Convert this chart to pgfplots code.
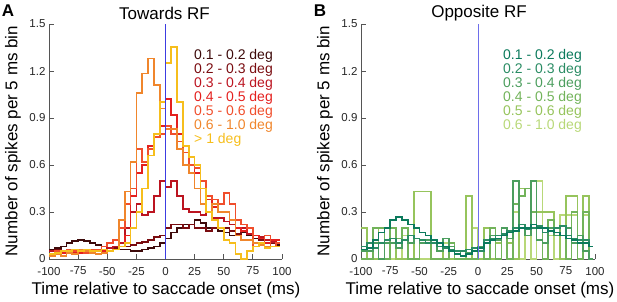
\documentclass[border=0pt]{standalone}
\usepackage{fontspec}
\setmainfont{Liberation Sans}
\usepackage{pgfplots}
\usepackage{pgfplotstable}
\pgfplotsset{compat=1.18}
\definecolor{lA}{HTML}{3D0A0A}
\definecolor{lB}{HTML}{7A0C10}
\definecolor{lC}{HTML}{BC1420}
\definecolor{lD}{HTML}{E4201E}
\definecolor{lE}{HTML}{F04E2C}
\definecolor{lF}{HTML}{F0862C}
\definecolor{lG}{HTML}{F6BE1C}
\definecolor{rA}{HTML}{0B7A5C}
\definecolor{rB}{HTML}{2A8C64}
\definecolor{rC}{HTML}{4C9E5E}
\definecolor{rD}{HTML}{72B35A}
\definecolor{rE}{HTML}{96C45C}
\definecolor{rF}{HTML}{B8D878}
\definecolor{axgray}{HTML}{555555}
\pgfplotstableread{
t a b c d e f g
-100 0.06 0.05 0.05 0.03 0.03 0.02 0.03
-95 0.07 0.06 0.05 0.03 0.05 0.03 0.04
-90 0.08 0.05 0.04 0.04 0.05 0.02 0.05
-85 0.10 0.06 0.05 0.05 0.06 0.04 0.05
-80 0.115 0.06 0.05 0.04 0.05 0.03 0.06
-75 0.12 0.05 0.04 0.04 0.05 0.06 0.05
-70 0.115 0.06 0.05 0.05 0.04 0.05 0.06
-65 0.10 0.05 0.06 0.04 0.06 0.04 0.05
-60 0.09 0.06 0.05 0.05 0.06 0.03 0.05
-55 0.08 0.06 0.06 0.05 0.08 0.04 0.06
-50 0.07 0.07 0.07 0.05 0.10 0.05 0.05
-45 0.07 0.07 0.08 0.06 0.12 0.06 0.06
-40 0.06 0.08 0.10 0.08 0.20 0.25 0.08
-35 0.06 0.08 0.20 0.15 0.35 0.43 0.10
-30 0.05 0.09 0.30 0.40 0.45 0.62 0.20
-25 0.05 0.10 0.35 0.55 0.70 1.06 0.30
-20 0.06 0.11 0.28 0.60 0.62 1.185 0.45
-15 0.07 0.12 0.30 0.72 0.70 1.28 0.66
-10 0.08 0.14 0.40 0.80 0.78 1.11 0.80
-5 0.10 0.15 0.50 0.85 0.80 0.96 1.00
0 0.13 0.20 0.46 1.02 0.85 0.83 1.25
5 0.17 0.22 0.50 0.92 0.80 0.83 1.355
10 0.20 0.22 0.40 0.80 0.75 0.70 1.00
15 0.22 0.20 0.32 0.72 0.68 0.60 0.72
20 0.22 0.22 0.30 0.65 0.60 0.55 0.65
25 0.25 0.20 0.30 0.55 0.58 0.45 0.60
30 0.23 0.20 0.28 0.45 0.50 0.35 0.45
35 0.20 0.18 0.30 0.38 0.40 0.30 0.30
40 0.20 0.20 0.26 0.33 0.38 0.35 0.25
45 0.18 0.20 0.26 0.30 0.35 0.30 0.20
50 0.17 0.20 0.24 0.30 0.42 0.30 0.12
55 0.15 0.18 0.22 0.25 0.35 0.25 0.10
60 0.15 0.16 0.20 0.20 0.25 0.15 0.03
65 0.17 0.18 0.20 0.18 0.22 0.12 0.00
70 0.15 0.16 0.16 0.20 0.20 0.12 0.05
75 0.13 0.15 0.15 0.15 0.08 0.10 0.08
80 0.12 0.12 0.14 0.13 0.10 0.09 0.10
85 0.10 0.12 0.12 0.10 0.15 0.08 0.07
90 0.10 0.10 0.11 0.12 0.08 0.08 0.08
95 0.09 0.10 0.10 0.12 0.10 0.08 0.08
98 0.09 0.10 0.10 0.12 0.10 0.08 0.08
}\tabL
\pgfplotstableread{
t a b c d e f
-100 0.06 0.08 0.05 0.00 0.20 0.00
-95 0.07 0.10 0.05 0.00 0.00 0.00
-90 0.12 0.07 0.10 0.20 0.00 0.10
-85 0.17 0.10 0.00 0.20 0.20 0.00
-80 0.20 0.12 0.10 0.00 0.00 0.00
-75 0.25 0.13 0.10 0.20 0.10 0.00
-70 0.27 0.10 0.07 0.13 0.00 0.00
-65 0.25 0.12 0.12 0.20 0.00 0.15
-60 0.22 0.15 0.10 0.00 0.00 0.00
-55 0.20 0.13 0.13 0.00 0.43 0.00
-50 0.17 0.12 0.10 0.10 0.43 0.00
-45 0.15 0.10 0.12 0.10 0.43 0.00
-40 0.12 0.10 0.10 0.00 0.10 0.00
-35 0.10 0.08 0.05 0.00 0.10 0.00
-30 0.08 0.07 0.13 0.00 0.00 0.10
-25 0.05 0.06 0.08 0.10 0.00 0.00
-20 0.03 0.05 0.03 0.00 0.00 0.00
-15 0.02 0.05 0.05 0.00 0.00 0.00
-10 0.03 0.06 0.04 0.00 0.40 0.00
-5 0.05 0.07 0.05 0.00 0.00 0.20
0 0.07 0.05 0.08 0.07 0.00 0.00
5 0.10 0.12 0.10 0.00 0.20 0.00
10 0.12 0.13 0.15 0.20 0.00 0.20
15 0.13 0.15 0.12 0.00 0.10 0.00
20 0.15 0.16 0.20 0.15 0.20 0.15
25 0.17 0.18 0.13 0.00 0.10 0.00
30 0.18 0.20 0.50 0.35 0.00 0.30
35 0.20 0.22 0.20 0.40 0.45 0.00
40 0.20 0.19 0.15 0.45 0.45 0.20
45 0.22 0.20 0.50 0.30 0.30 0.00
50 0.20 0.21 0.12 0.20 0.30 0.50
55 0.20 0.17 0.10 0.00 0.30 0.00
60 0.18 0.18 0.20 0.25 0.30 0.15
65 0.17 0.20 0.15 0.20 0.15 0.00
70 0.15 0.21 0.15 0.15 0.00 0.28
75 0.13 0.15 0.20 0.00 0.40 0.28
80 0.12 0.13 0.10 0.30 0.40 0.28
85 0.10 0.12 0.15 0.00 0.10 0.10
90 0.10 0.12 0.05 0.30 0.40 0.28
95 0.08 0.08 0.00 0.00 0.00 0.00
98 0.08 0.08 0.00 0.00 0.00 0.00
}\tabR
\pgfplotsset{
  panel/.style={
    width=233pt, height=235pt, scale only axis, anchor=south west,
    xmin=-100, xmax=100, ymin=0, ymax=1.5,
    xtick={-100,-75,-50,-25,0,25,50,75,100},
    ytick={0,0.3,0.6,0.9,1.2,1.5},
    axis x line=bottom, axis y line=left,
    axis line style={-, draw=axgray, line width=0.8pt},
    tick align=inside, major tick length=5pt,
    tick style={draw=axgray, line width=0.8pt},
    ticklabel style={font=\fontsize{11.5}{12}\selectfont, text=black!85},
    xticklabel style={yshift=-4.5pt},
    /pgf/number format/assume math mode=true,
    scaled ticks=false,
    yticklabel style={/pgf/number format/fixed, /pgf/number format/precision=1},
    clip=false,
  },
}
\begin{document}
\begin{tikzpicture}
\path[use as bounding box] (0pt,0pt) rectangle (617pt,301pt);
\begin{axis}[panel, at={(49pt,42pt)}]
\addplot[const plot mark left, line width=1.7pt, color=lA] table[x=t,y=a]{\tabL};
\addplot[const plot mark left, line width=1.7pt, color=lB] table[x=t,y=b]{\tabL};
\addplot[const plot mark left, line width=1.7pt, color=lC] table[x=t,y=c]{\tabL};
\addplot[const plot mark left, line width=1.7pt, color=lD] table[x=t,y=d]{\tabL};
\addplot[const plot mark left, line width=1.7pt, color=lE] table[x=t,y=e]{\tabL};
\addplot[const plot mark left, line width=1.7pt, color=lF] table[x=t,y=f]{\tabL};
\addplot[const plot mark left, line width=1.7pt, color=lG] table[x=t,y=g]{\tabL};
\addplot[color={rgb,255:red,60;green,60;blue,225}, line width=0.8pt] coordinates {(0,0) (0,1.5)};
\end{axis}
\begin{axis}[panel, at={(361pt,42pt)}, width=234pt]
\addplot[const plot mark left, line width=1.7pt, color=rF] table[x=t,y=f]{\tabR};
\addplot[const plot mark left, line width=1.7pt, color=rE] table[x=t,y=e]{\tabR};
\addplot[const plot mark left, line width=1.7pt, color=rD] table[x=t,y=d]{\tabR};
\addplot[const plot mark left, line width=1.7pt, color=rC] table[x=t,y=c]{\tabR};
\addplot[const plot mark left, line width=1.7pt, color=rB] table[x=t,y=b]{\tabR};
\addplot[const plot mark left, line width=1.7pt, color=rA] table[x=t,y=a]{\tabR};
\addplot[color={rgb,255:red,110;green,110;blue,235}, line width=1pt] coordinates {(0,0) (0,1.5)};
\end{axis}
% titles and labels
\node[font=\fontsize{17}{18}\selectfont] at (164.5pt,288pt) {Towards RF};
\node[font=\fontsize{17}{18}\selectfont] at (479pt,288pt) {Opposite RF};
\node[font=\fontsize{17}{18}\selectfont\bfseries] at (8pt,290pt) {A};
\node[font=\fontsize{17}{18}\selectfont\bfseries] at (320pt,290pt) {B};
\node[font=\fontsize{17}{18}\selectfont, rotate=90] at (13pt,160pt) {Number of spikes per 5 ms bin};
\node[font=\fontsize{17}{18}\selectfont, rotate=90] at (325pt,160pt) {Number of spikes per 5 ms bin};
\node[font=\fontsize{17}{18}\selectfont] at (166pt,11pt) {Time relative to saccade onset (ms)};
\node[font=\fontsize{17}{18}\selectfont] at (480pt,11pt) {Time relative to saccade onset (ms)};
% legends
\begin{scope}[every node/.style={anchor=west, inner sep=0pt, font=\fontsize{14}{14}\selectfont}]
\node[text=lA] at (194pt,245pt) {0.1 - 0.2 deg};
\node[text=lB] at (194pt,231.1pt) {0.2 - 0.3 deg};
\node[text=lC] at (194pt,217.2pt) {0.3 - 0.4 deg};
\node[text=lD] at (194pt,203.3pt) {0.4 - 0.5 deg};
\node[text=lE] at (194pt,189.4pt) {0.5 - 0.6 deg};
\node[text=lF] at (194pt,175.5pt) {0.6 - 1.0 deg};
\node[text=lG] at (194pt,161.6pt) {> 1 deg};
\node[text=rA] at (503pt,245pt) {0.1 - 0.2 deg};
\node[text=rB] at (503pt,231.1pt) {0.2 - 0.3 deg};
\node[text=rC] at (503pt,217.2pt) {0.3 - 0.4 deg};
\node[text=rD] at (503pt,203.3pt) {0.4 - 0.5 deg};
\node[text=rE] at (503pt,189.4pt) {0.5 - 0.6 deg};
\node[text=rF] at (503pt,175.5pt) {0.6 - 1.0 deg};
\end{scope}
\end{tikzpicture}
\end{document}
